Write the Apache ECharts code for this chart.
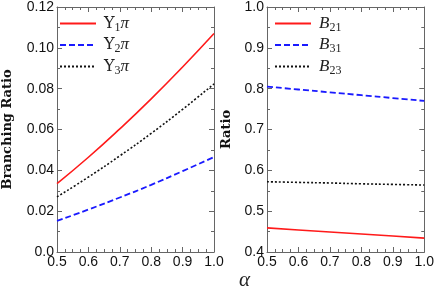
<!DOCTYPE html>
<html><head><meta charset="utf-8">
<script src="https://cdn.jsdelivr.net/npm/echarts@6/dist/echarts.min.js"></script>
<style>html,body{margin:0;padding:0;background:#fff}#c{width:437px;height:290px}</style>
</head><body><div id="c"></div>
<script>
const alpha = [0.5, 0.6, 0.7, 0.8, 0.9, 1.0];
const ups1 = [0.0335, 0.0464, 0.0603, 0.0750, 0.0906, 0.1070];
const ups2 = [0.0152, 0.0208, 0.0267, 0.0329, 0.0396, 0.0465];
const ups3 = [0.0270, 0.0367, 0.0471, 0.0581, 0.0699, 0.0823];
const b21 = [0.459, 0.454, 0.449, 0.444, 0.439, 0.434];
const b31 = [0.805, 0.798, 0.791, 0.784, 0.777, 0.770];
const b23 = [0.572, 0.5705, 0.569, 0.567, 0.5655, 0.564];
const leftNames = ['Υ1π', 'Υ2π', 'Υ3π'];
const rightNames = ['B21', 'B31', 'B23'];

const pair = (ys) => alpha.map((a, i) => [a, ys[i]]);
const AX = '#666';
const serif = 'Liberation Serif';
const sans = 'Liberation Sans';

function xAx(grid, pos, show) {
  return {
    type: 'value', gridIndex: grid, position: pos, min: 0.5, max: 1.0, interval: 0.1,
    axisLine: { show: true, onZero: false, lineStyle: { color: AX, width: 1 } },
    axisTick: { show: true, inside: true, length: 5, lineStyle: { color: AX } },
    minorTick: { show: true, splitNumber: 4, length: 3, lineStyle: { color: AX } },
    splitLine: { show: false },
    axisLabel: { show: show, color: '#111', fontFamily: sans, fontSize: 14, margin: 3,
      formatter: v => v.toFixed(1) }
  };
}
function yAx(grid, pos, show, min, max, iv, fmt, name, gap) {
  return {
    type: 'value', gridIndex: grid, position: pos, min: min, max: max, interval: iv,
    name: name || '', nameLocation: 'middle', nameGap: gap || 0,
    nameTextStyle: { fontFamily: 'DejaVu Serif', fontWeight: 'bold', fontSize: 13, color: '#111' },
    axisLine: { show: true, onZero: false, lineStyle: { color: AX, width: 1 } },
    axisTick: { show: true, inside: true, length: 5, lineStyle: { color: AX } },
    minorTick: { show: true, splitNumber: 2, length: 3, lineStyle: { color: AX } },
    splitLine: { show: false },
    axisLabel: { show: show, color: '#111', fontFamily: sans, fontSize: 14, margin: 3, formatter: fmt }
  };
}
const styles = [
  { color: '#ff1a1a', type: 'solid', width: 1.6 },
  { color: '#1a1aff', type: [6, 3], width: 1.8 },
  { color: '#111', type: [2, 2], width: 1.6 }
];
function ser(name, data, k, xi, yi) {
  return { name: name, type: 'line', xAxisIndex: xi, yAxisIndex: yi, data: pair(data),
    showSymbol: false, symbol: 'none', smooth: true, lineStyle: styles[k], itemStyle: { color: styles[k].color } };
}
const rich = {
  n: { fontFamily: 'DejaVu Serif', fontSize: 16, color: '#222', padding: [0, 0, 0, 3] },
  i: { fontFamily: serif, fontSize: 17, fontStyle: 'italic', color: '#222' },
  b: { fontFamily: serif, fontSize: 17, fontStyle: 'italic', color: '#222', padding: [0, 0, 0, 3] },
  s: { fontFamily: serif, fontSize: 12, color: '#222', padding: [8, 0, 0, 0] }
};
function legFmt(name) {
  if (name[0] === 'Υ') return '{n|Υ}{s|' + name[1] + '}{i|π}';
  return '{b|B}{s|' + name.slice(1) + '}';
}
function leg(names, left) {
  return { data: names, orient: 'vertical', left: left, top: 10, itemWidth: 36, itemHeight: 14,
    itemGap: 3, formatter: legFmt, textStyle: { rich: rich },
    itemStyle: { opacity: 0 } };
}
const chart = echarts.init(document.getElementById('c'), null, { renderer: 'canvas' });
chart.setOption({
  animation: false,
  grid: [
    { left: 52, top: 6, width: 162, height: 246 },
    { left: 267, top: 6, width: 162, height: 246 }
  ],
  xAxis: [xAx(0, 'bottom', true), xAx(1, 'bottom', true), xAx(0, 'top', false), xAx(1, 'top', false)],
  yAxis: [
    yAx(0, 'left', true, 0, 0.12, 0.02, v => v === 0 ? '0.0' : v.toFixed(2), 'Branching Ratio', 43),
    yAx(1, 'left', true, 0.4, 1.0, 0.1, v => v.toFixed(1), 'Ratio', 34),
    yAx(0, 'right', false, 0, 0.12, 0.02, v => v),
    yAx(1, 'right', false, 0.4, 1.0, 0.1, v => v)
  ],
  legend: [leg(leftNames, 54), leg(rightNames, 269)],
  title: { text: 'α', left: 234, top: 265, textStyle: { fontFamily: serif, fontStyle: 'italic', fontSize: 21, fontWeight: 'normal', color: '#222' } },
  series: [
    ser(leftNames[0], ups1, 0, 0, 0),
    ser(leftNames[1], ups2, 1, 0, 0),
    ser(leftNames[2], ups3, 2, 0, 0),
    ser(rightNames[0], b21, 0, 1, 1),
    ser(rightNames[1], b31, 1, 1, 1),
    ser(rightNames[2], b23, 2, 1, 1)
  ]
});
</script></body></html>
